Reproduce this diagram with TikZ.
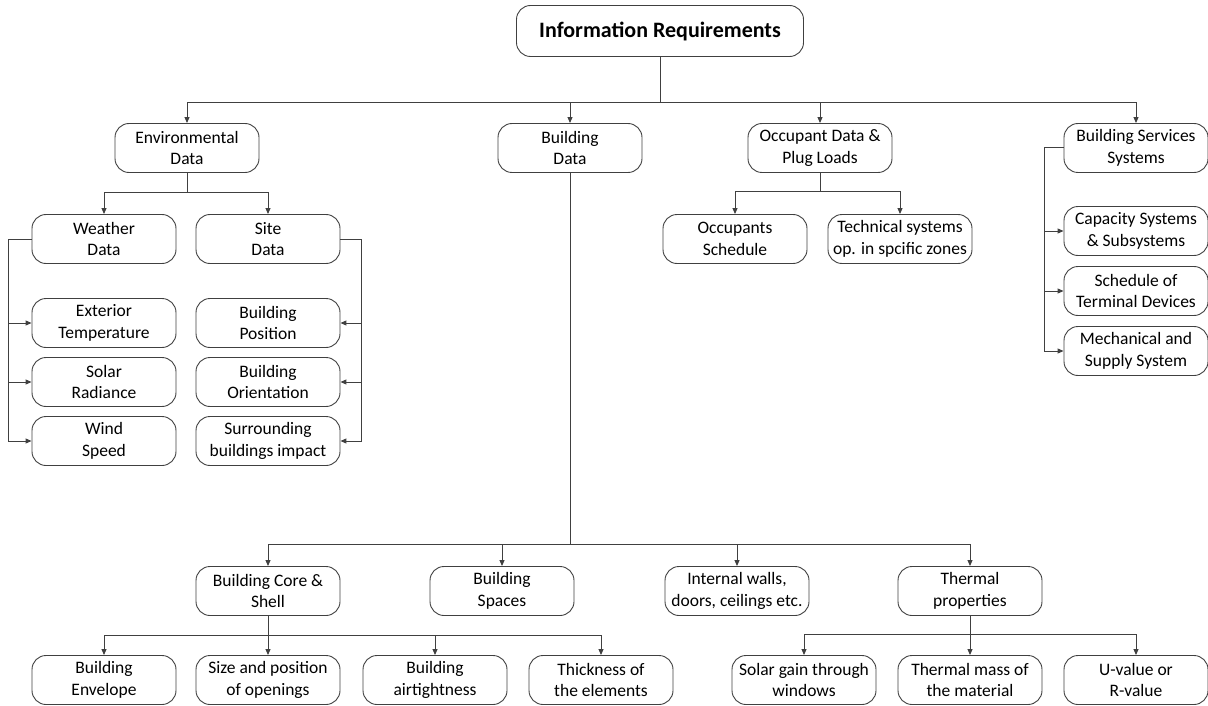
\documentclass[tikz,border=0pt]{standalone}
\usepackage{fontspec}
\setmainfont{Carlito}
\usetikzlibrary{arrows.meta}

\begin{document}
\begin{tikzpicture}[x=1pt, y=-1pt,
    box/.style={draw=black!75, line width=0.9pt, rounded corners=14pt, minimum width=144pt, minimum height=49pt,
        inner xsep=1pt, align=center, font=\fontsize{17.5}{21.5}\selectfont},
    link/.style={draw=black!75, line width=1pt},
    arr/.style={link, -{Triangle[length=6pt, width=5pt]}}]
    \useasboundingbox (0,0) rectangle (1208,706);

    % top of the tree
    \node[box, minimum width=287pt, minimum height=51pt, font=\bfseries\fontsize{22}{26}\selectfont] (info) at (660,31) {Information Requirements};
    \node[box] (env) at (187,148) {Environmental\\Data};
    \node[box] (bdata) at (570,148) {Building\\Data};
    \node[box] (occ) at (820,148) {Occupant Data \&\\Plug Loads};
    \node[box] (serv) at (1136,148) {Building Services\\Systems};

    % environmental data
    \node[box] (weather) at (104,239) {Weather\\Data};
    \node[box] (site) at (268,239) {Site\\Data};
    \node[box] (ext) at (104,323) {Exterior\\Temperature};
    \node[box] (solar) at (104,382) {Solar\\Radiance};
    \node[box] (wind) at (104,441) {Wind\\Speed};
    \node[box] (pos) at (268,323) {Building\\Position};
    \node[box] (orient) at (268,382) {Building\\Orientation};
    \node[box] (surr) at (268,441) {Surrounding\\buildings impact};

    % occupants and services
    \node[box] (occsched) at (735,239) {Occupants\\Schedule};
    \node[box] (tech) at (900,239) {Technical systems\\op. in spcific zones};
    \node[box] (cap) at (1136,231) {Capacity Systems\\\& Subsystems};
    \node[box] (term) at (1136,291) {Schedule of\\Terminal Devices};
    \node[box] (mech) at (1136,351) {Mechanical and\\Supply System};

    % building data
    \node[box] (core) at (268,591) {Building Core \&\\Shell};
    \node[box] (spaces) at (502,591) {Building\\Spaces};
    \node[box] (walls) at (737,591) {Internal walls,\\doors, ceilings etc.};
    \node[box] (thermal) at (970,591) {Thermal\\properties};
    \node[box] (envel) at (104,680) {Building\\Envelope};
    \node[box] (openings) at (268,680) {Size and position\\of openings};
    \node[box] (airt) at (435,680) {Building\\airtightness};
    \node[box] (thick) at (601,680) {Thickness of\\the elements};
    \node[box] (solarg) at (804,680) {Solar gain through\\windows};
    \node[box] (mass) at (970,680) {Thermal mass of\\the material};
    \node[box] (uval) at (1136,680) {U-value or\\R-value};

    % bus points
    \coordinate (topbus) at (660,103);
    \coordinate (envbus) at (187,193);
    \coordinate (occbus) at (820,192);
    \coordinate (bdbus) at (570,544);
    \coordinate (corebus) at (268,635);
    \coordinate (thbus) at (970,634);

    % connectors
    \draw[link] (info) -- (topbus);
    \foreach \n in {env,bdata,occ,serv}
        \draw[arr] (topbus) -| (\n);
    \draw[link] (env) -- (envbus);
    \foreach \n in {weather,site}
        \draw[arr] (envbus) -| (\n);
    \foreach \n in {ext,solar,wind}
        \draw[arr] (weather.west) -- ++(-23,0) |- (\n);
    \foreach \n in {pos,orient,surr}
        \draw[arr] (site.east) -- ++(21,0) |- (\n);
    \draw[link] (occ) -- (occbus);
    \foreach \n in {occsched,tech}
        \draw[arr] (occbus) -| (\n);
    \foreach \n in {cap,term,mech}
        \draw[arr] (serv.west) -- ++(-19,0) |- (\n);
    \draw[link] (bdata) -- (bdbus);
    \foreach \n in {core,spaces,walls,thermal}
        \draw[arr] (bdbus) -| (\n);
    \draw[link] (core) -- (corebus);
    \foreach \n in {envel,openings,airt,thick}
        \draw[arr] (corebus) -| (\n);
    \draw[link] (thermal) -- (thbus);
    \foreach \n in {solarg,mass,uval}
        \draw[arr] (thbus) -| (\n);
\end{tikzpicture}
\end{document}
